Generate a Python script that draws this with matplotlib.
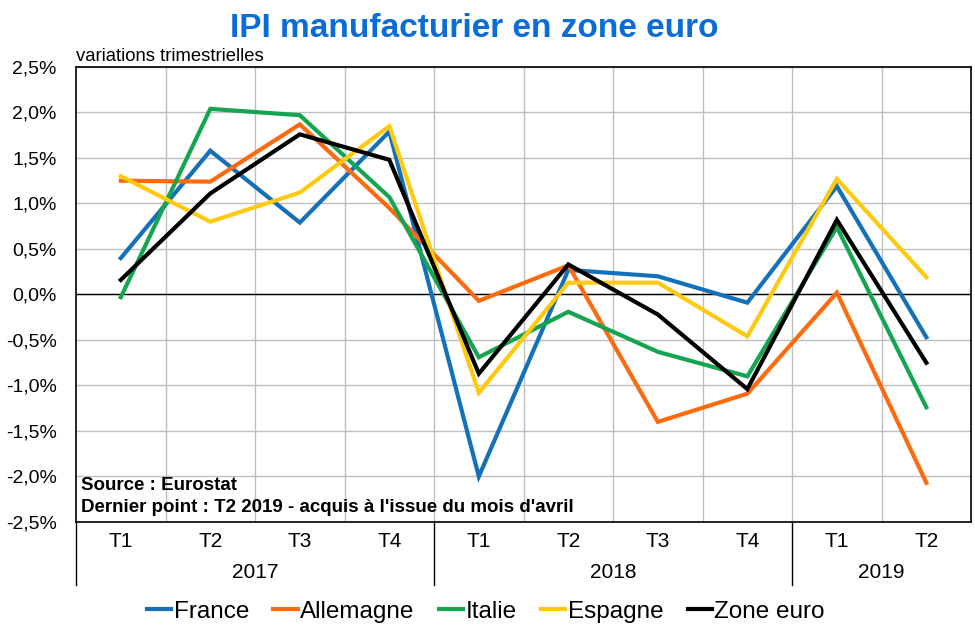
import numpy as np
import matplotlib.pyplot as plt
import matplotlib.transforms as mtransforms

plt.rcParams['font.family'] = ['Liberation Sans', 'DejaVu Sans']

# trimestres
quarters = ['T1', 'T2', 'T3', 'T4', 'T1', 'T2', 'T3', 'T4', 'T1', 'T2']
years = ['2017', '2018', '2019']
year_span = [(0, 3), (4, 7), (8, 9)]

# variations trimestrielles (%)
france = [0.40, 1.58, 0.79, 1.79, -2.00, 0.27, 0.20, -0.09, 1.19, -0.47]
allemagne = [1.25, 1.24, 1.87, 0.95, -0.07, 0.32, -1.40, -1.09, 0.02, -2.07]
italie = [-0.03, 2.04, 1.97, 1.07, -0.69, -0.19, -0.63, -0.90, 0.74, -1.24]
espagne = [1.30, 0.80, 1.12, 1.85, -1.08, 0.13, 0.13, -0.46, 1.27, 0.19]
zone_euro = [0.16, 1.11, 1.76, 1.48, -0.87, 0.33, -0.22, -1.04, 0.82, -0.75]

series = [('France', france, '#1470B8'),
          ('Allemagne', allemagne, '#FF6A0D'),
          ('Italie', italie, '#14A550'),
          ('Espagne', espagne, '#FFC90E'),
          ('Zone euro', zone_euro, '#000000')]

fig = plt.figure(figsize=(9.75, 6.35), dpi=100)
ax = fig.add_axes([0.078, 0.178, 0.918, 0.7165])

x = np.arange(len(quarters))
for name, vals, col in series:
    ax.plot(x, vals, color=col, lw=3, label=name, solid_joinstyle='miter')

ax.set_xlim(-0.5, 9.5)
ax.set_ylim(-2.5, 2.5)
yt = np.arange(-2.5, 2.51, 0.5)
ax.set_yticks(yt)
ax.set_yticklabels([('%.1f%%' % v).replace('.', ',') for v in yt], fontsize=14)
ax.set_xticks(np.arange(0.5, 9.5, 1))
ax.set_xticklabels([])
ax.tick_params(axis='x', length=0)
ax.tick_params(axis='y', length=0, pad=14)
ax.grid(True, color='#BFBFBF', lw=1)
ax.set_axisbelow(True)
ax.axhline(0, color='black', lw=1, zorder=1.5)
for s in ax.spines.values():
    s.set_color('black')
    s.set_linewidth(1.2)

# axe des categories
trans = mtransforms.blended_transform_factory(ax.transData, ax.transAxes)
for i, q in enumerate(quarters):
    ax.text(i, -0.042, q, transform=trans, ha='center', va='center', fontsize=15)
for yr, (a, b) in zip(years, year_span):
    ax.text((a + b) / 2, -0.112, yr, transform=trans, ha='center', va='center', fontsize=15)
for xs in [-0.5, 3.5, 7.5]:
    ax.plot([xs, xs], [0, -0.138], transform=trans, color='black', lw=1, clip_on=False)

ax.text(0.005, 0.08, 'Source : Eurostat', transform=ax.transAxes, fontsize=13.5,
        fontweight='bold', va='center')
ax.text(0.005, 0.031, "Dernier point : T2 2019 - acquis à l'issue du mois d'avril",
        transform=ax.transAxes, fontsize=13.5, fontweight='bold', va='center')

fig.text(0.078, 0.911, 'variations trimestrielles', fontsize=13.3, va='center')
fig.text(0.486, 0.955, 'IPI manufacturier en zone euro', fontsize=24, fontweight='bold',
         color='#0A6CD6', ha='center', va='center')

ax.legend(loc='center', bbox_to_anchor=(0.458, -0.197), ncol=5, frameon=False,
          handlelength=1.0, handletextpad=0.1, columnspacing=1.0,
          prop={'size': 17.5})

fig.savefig('out.png', dpi=100)
